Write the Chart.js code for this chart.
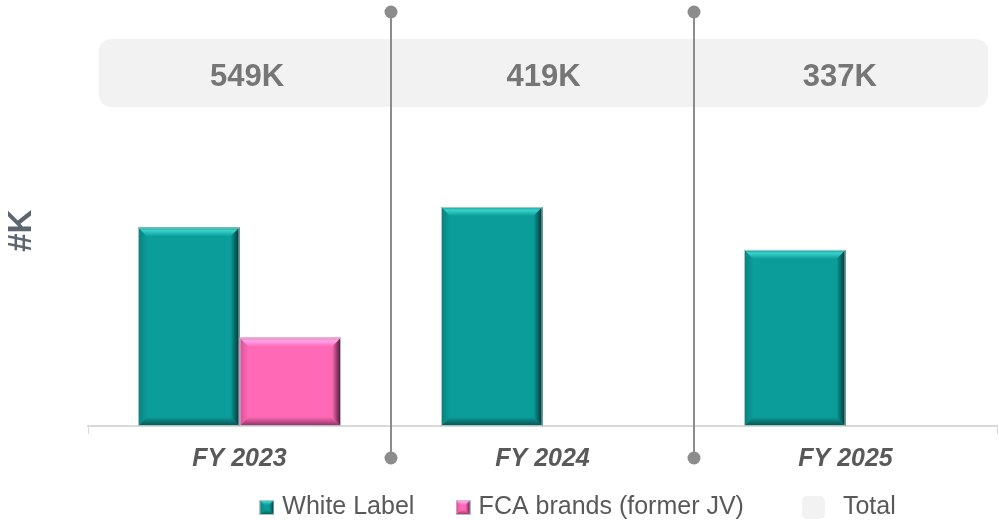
<!DOCTYPE html>
<html>
<head>
<meta charset="utf-8">
<script src="https://cdn.jsdelivr.net/npm/chart.js@4.4.1/dist/chart.umd.min.js"></script>
<style>
  html, body { margin: 0; padding: 0; background: #fff; }
  #wrap { width: 999px; height: 520px; position: relative; }
</style>
</head>
<body>
<div id="wrap"><canvas id="chart"></canvas></div>
<script>
// data
const categories = ['FY 2023', 'FY 2024', 'FY 2025'];
const whiteLabel = [380, 419, 337];
const fcaBrands = [169, null, null];
const totals = [549, 419, 337];
const totalLabels = ['549K', '419K', '337K'];

// bevel colours for the 3D-looking bars
const teal = { main: '#0a9d99', top: '#3ad3cb', left: '#0b7f7c', right: '#052f30', bottom: '#09504f' };
const pink = { main: '#ff69b5', top: '#ffa6ec', left: '#d6509a', right: '#3f1430', bottom: '#8a2f5f' };

function drawBevelRect(ctx, l, t, r, b, c, d) {
    d = Math.min(d, (r - l) / 3, (b - t) / 3);
    ctx.save();
    ctx.fillStyle = c.main;
    ctx.fillRect(l, t, r - l, b - t);

    let g;
    // top
    g = ctx.createLinearGradient(0, t, 0, t + d);
    g.addColorStop(0, c.main); g.addColorStop(0.35, c.top); g.addColorStop(1, c.main);
    ctx.fillStyle = g;
    ctx.beginPath(); ctx.moveTo(l, t); ctx.lineTo(r, t); ctx.lineTo(r - d, t + d); ctx.lineTo(l + d, t + d); ctx.closePath(); ctx.fill();
    // bottom
    g = ctx.createLinearGradient(0, b - d, 0, b);
    g.addColorStop(0, c.main); g.addColorStop(1, c.bottom);
    ctx.fillStyle = g;
    ctx.beginPath(); ctx.moveTo(l, b); ctx.lineTo(r, b); ctx.lineTo(r - d, b - d); ctx.lineTo(l + d, b - d); ctx.closePath(); ctx.fill();
    // left
    g = ctx.createLinearGradient(l, 0, l + d, 0);
    g.addColorStop(0, c.left); g.addColorStop(1, c.main);
    ctx.fillStyle = g;
    ctx.beginPath(); ctx.moveTo(l, t); ctx.lineTo(l + d, t + d); ctx.lineTo(l + d, b - d); ctx.lineTo(l, b); ctx.closePath(); ctx.fill();
    // right
    g = ctx.createLinearGradient(r - d, 0, r, 0);
    g.addColorStop(0, c.main); g.addColorStop(1, c.right);
    ctx.fillStyle = g;
    ctx.beginPath(); ctx.moveTo(r, t); ctx.lineTo(r - d, t + d); ctx.lineTo(r - d, b - d); ctx.lineTo(r, b); ctx.closePath(); ctx.fill();

    ctx.strokeStyle = 'rgba(190,205,205,0.9)';
    ctx.lineWidth = 1;
    ctx.strokeRect(l + 0.5, t + 0.5, r - l - 1, b - t - 1);
    ctx.restore();
}

function legendSwatch(c) {
    const cv = document.createElement('canvas');
    cv.width = 15; cv.height = 15;
    drawBevelRect(cv.getContext('2d'), 0, 0, 15, 15, c, 5);
    return cv;
}

function totalSwatch() {
    const cv = document.createElement('canvas');
    cv.width = 23; cv.height = 23;
    const ctx = cv.getContext('2d');
    ctx.fillStyle = '#f2f2f2';
    ctx.beginPath(); ctx.roundRect(0, 0, 23, 23, 5); ctx.fill();
    return cv;
}

// paints the bevels over the plain bars
const bevelBars = {
    id: 'bevelBars',
    afterDatasetsDraw(chart) {
        const ctx = chart.ctx;
        chart.data.datasets.forEach((ds, i) => {
            if (!ds.bevel) return;
            const meta = chart.getDatasetMeta(i);
            meta.data.forEach((bar, j) => {
                if (ds.data[j] == null) return;
                const l = bar.x - bar.width / 2, r = bar.x + bar.width / 2;
                drawBevelRect(ctx, l, bar.y, r, bar.base, ds.bevel, 9);
            });
        });
    }
};

// grey band with the totals, and the dividers between years
const totalsBand = {
    id: 'totalsBand',
    beforeDatasetsDraw(chart) {
        const { ctx, chartArea } = chart;
        const bandLeft = chartArea.left + 11;
        const bandWidth = chartArea.right - chartArea.left - 20;
        ctx.save();
        ctx.fillStyle = '#f2f2f2';
        ctx.beginPath();
        ctx.roundRect(bandLeft, 39, bandWidth, 68, 12);
        ctx.fill();
        ctx.fillStyle = '#767676';
        ctx.font = 'bold 31px "Liberation Sans", Arial, sans-serif';
        ctx.textAlign = 'center';
        ctx.textBaseline = 'middle';
        totals.forEach((v, i) => {
            ctx.fillText(totalLabels[i], bandLeft + (i + 0.5) * bandWidth / totals.length, 77);
        });
        ctx.restore();
    },
    afterDatasetsDraw(chart) {
        const ctx = chart.ctx;
        const x = chart.scales.x;
        ctx.save();
        ctx.strokeStyle = '#8c8c8c';
        ctx.fillStyle = '#8c8c8c';
        ctx.lineWidth = 2;
        for (let i = 0; i < categories.length - 1; i++) {
            const px = Math.round((x.getPixelForValue(i) + x.getPixelForValue(i + 1)) / 2);
            ctx.beginPath(); ctx.moveTo(px, 12); ctx.lineTo(px, 458); ctx.stroke();
            ctx.beginPath(); ctx.arc(px, 12, 6.5, 0, Math.PI * 2); ctx.fill();
            ctx.beginPath(); ctx.arc(px, 458, 6.5, 0, Math.PI * 2); ctx.fill();
        }
        ctx.restore();
    }
};

const swatches = [legendSwatch(teal), legendSwatch(pink), totalSwatch()];
// extra spaces keep the legend spread out like the original
const legendText = ['White Label     ', 'FCA brands (former JV)        ', '  Total             '];

new Chart(document.getElementById('chart'), {
    type: 'bar',
    data: {
        labels: categories,
        datasets: [
            { label: 'White Label', data: whiteLabel, backgroundColor: teal.main, bevel: teal, borderWidth: 0 },
            { label: 'FCA brands (former JV)', data: fcaBrands, backgroundColor: pink.main, bevel: pink, borderWidth: 0 },
            { label: 'Total', type: 'line', data: totals, showLine: false, pointRadius: 0, pointHoverRadius: 0, backgroundColor: '#f2f2f2', borderColor: '#f2f2f2' }
        ]
    },
    options: {
        responsive: true,
        maintainAspectRatio: false,
        animation: false,
        layout: { padding: { top: 8, right: 2, left: 0, bottom: -10 } },
        datasets: { bar: { barPercentage: 1, categoryPercentage: 0.67 } },
        scales: {
            x: {
                grid: { display: true, drawOnChartArea: false, tickLength: 8, color: '#d9d9d9' },
                border: { color: '#d9d9d9', width: 2 },
                ticks: {
                    color: '#595959',
                    padding: 10,
                    font: { family: '"Liberation Sans", Arial, sans-serif', size: 25, weight: 'bold', style: 'italic' }
                }
            },
            y: {
                min: 0,
                max: 800,
                grid: { display: false },
                border: { display: false },
                ticks: { display: false },
                title: {
                    display: true,
                    text: '#K   ',
                    color: '#5b6670',
                    padding: { top: 2, bottom: 0 },
                    font: { family: '"Liberation Sans", Arial, sans-serif', size: 33, weight: 'bold' }
                },
                afterFit(scale) { scale.width = 88; }
            }
        },
        plugins: {
            tooltip: { enabled: false },
            legend: {
                position: 'bottom',
                align: 'end',
                labels: {
                    usePointStyle: true,
                    boxWidth: 6,
                    boxHeight: 14,
                    padding: 11,
                    color: '#595959',
                    font: { family: '"Liberation Sans", Arial, sans-serif', size: 25 },
                    generateLabels(chart) {
                        return chart.data.datasets.map((ds, i) => ({
                            text: legendText[i],
                            pointStyle: swatches[i],
                            fillStyle: ds.backgroundColor,
                            strokeStyle: ds.backgroundColor,
                            lineWidth: 0,
                            fontColor: '#595959',
                            hidden: false,
                            datasetIndex: i
                        }));
                    }
                }
            }
        }
    },
    plugins: [bevelBars, totalsBand]
});
</script>
</body>
</html>
